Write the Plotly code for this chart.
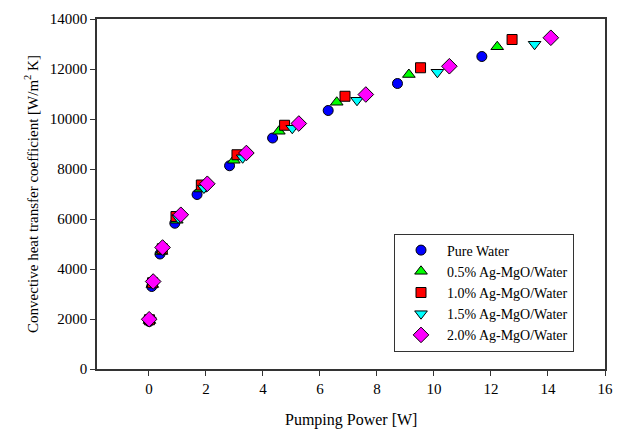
import plotly.graph_objects as go

series_names = ["Pure Water", "0.5% Ag-MgO/Water", "1.0% Ag-MgO/Water",
                "1.5% Ag-MgO/Water", "2.0% Ag-MgO/Water"]

pw_x = [0.01, 0.10, 0.39, 0.91, 1.69, 2.83, 4.34, 6.29, 8.72, 11.68]
pw_y = [1900, 3300, 4600, 5830, 6980, 8130, 9240, 10340, 11420, 12500]

c05_x = [0.02, 0.12, 0.44, 0.98, 1.81, 2.98, 4.56, 6.59, 9.12, 12.22]
c05_y = [1940, 3380, 4700, 5950, 7200, 8350, 9510, 10670, 11780, 12890]

c10_x = [0.02, 0.13, 0.47, 0.95, 1.84, 3.09, 4.76, 6.88, 9.53, 12.74]
c10_y = [1970, 3450, 4810, 6100, 7360, 8570, 9750, 10910, 12050, 13180]

c15_x = [0.03, 0.15, 0.50, 1.03, 1.93, 3.29, 5.03, 7.30, 10.12, 13.53]
c15_y = [1960, 3420, 4760, 6050, 7240, 8450, 9630, 10750, 11870, 12990]

c20_x = [0.01, 0.15, 0.48, 1.12, 2.05, 3.42, 5.26, 7.61, 10.54, 14.10]
c20_y = [1990, 3500, 4860, 6170, 7410, 8640, 9820, 10980, 12110, 13250]

x_ticks = [0, 2, 4, 6, 8, 10, 12, 14, 16]
y_ticks = [0, 2000, 4000, 6000, 8000, 10000, 12000, 14000]

xs = [pw_x, c05_x, c10_x, c15_x, c20_x]
ys = [pw_y, c05_y, c10_y, c15_y, c20_y]
colors = ["#0000ff", "#00ff00", "#ff0000", "#00ffff", "#ff00ff"]
symbols = ["circle", "triangle-up", "square", "triangle-down", "diamond"]
sizes = [10, 11, 10, 11, 12]

font_family = "Liberation Serif"

fig = go.Figure()
for name, x, y, c, s, sz in zip(series_names, xs, ys, colors, symbols, sizes):
    fig.add_trace(go.Scatter(
        x=x, y=y, mode="markers", name=name,
        marker=dict(color=c, symbol=s, size=sz, line=dict(color="black", width=1)),
    ))

fig.update_layout(
    width=621, height=430,
    margin=dict(l=97, r=8, t=19, b=61),
    paper_bgcolor="white", plot_bgcolor="white",
    font=dict(family=font_family, size=15, color="black"),
    showlegend=True,
    legend=dict(
        x=0.939, y=0.05, xanchor="right", yanchor="bottom",
        bordercolor="#333", borderwidth=1, bgcolor="white",
        font=dict(family=font_family, size=14, color="black"),
        tracegroupgap=0, itemwidth=42,
    ),
    xaxis=dict(
        range=[-1.82, 16], tickvals=x_ticks, ticktext=[str(v) for v in x_ticks],
        showgrid=False, zeroline=False, showline=True, linecolor="#333", linewidth=1.5,
        mirror=True, ticks="outside", ticklen=5, tickcolor="#333",
        tickfont=dict(family=font_family, size=15),
    ),
    yaxis=dict(
        range=[0, 14000], tickvals=y_ticks, ticktext=[str(v) for v in y_ticks],
        showgrid=False, zeroline=False, showline=True, linecolor="#333", linewidth=1.5,
        mirror=True, ticks="outside", ticklen=5, tickcolor="#333",
        tickfont=dict(family=font_family, size=15),
        title=dict(text="Convective heat transfer coefficient [W/m<sup>2</sup> K]",
                   font=dict(family=font_family, size=15), standoff=8),
    ),
    annotations=[dict(
        text="Pumping Power [W]", xref="paper", yref="paper",
        x=0.5, y=-0.147, xanchor="center", yanchor="middle", showarrow=False,
        font=dict(family=font_family, size=16, color="black"),
    )],
)

fig.write_html("out.html")
